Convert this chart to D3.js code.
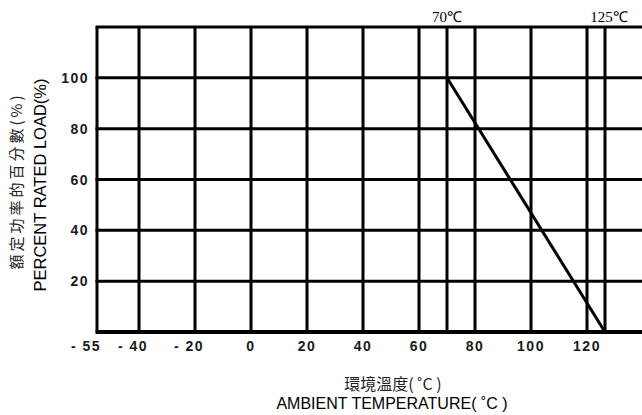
<!DOCTYPE html>
<html>
<head>
<meta charset="utf-8">
<script src="https://cdn.jsdelivr.net/npm/d3@7"></script>
<style>
  html, body { margin: 0; padding: 0; background: #fff; }
  svg { display: block; }
</style>
</head>
<body>
<svg id="chart" width="642" height="415"></svg>
<script>
// ---- data ----
const gridTemps = [-55, -40, -20, 0, 20, 40, 60, 70, 80, 100, 120, 125];
const xTickValues = [-55, -40, -20, 0, 20, 40, 60, 80, 100, 120];
const xTickLabels = ["- 55", "- 40", "- 20", "0", "20", "40", "60", "80", "100", "120"];
const gridLoads = [0, 20, 40, 60, 80, 100, 120];
const yTickValues = [20, 40, 60, 80, 100];
const yTickLabels = ["20", "40", "60", "80", "100"];
const curveTemps = [70, 125];
const curveLoads = [100, 0];
const markerTemps = [70, 125];
const markerLabels = ["70℃", "125℃"];
const yTitleZh = "額定功率的百分數(%)";
const yTitleEn = "PERCENT RATED LOAD(%)";
const xTitleZh = "環境溫度( ˚C )";
const xTitleEn = "AMBIENT TEMPERATURE( ˚C )";

// ---- layout ----
const svg = d3.select("#chart");
// the printed chart is slightly stretched between 120 and 125
const x = d3.scaleLinear().domain([-55, 120, 125, 140]).range([97, 587, 605, 650]);
const y = d3.scaleLinear().domain([0, 120]).range([332, 27]);

// grid: vertical lines
svg.append("g").selectAll("line").data(gridTemps).join("line")
  .attr("x1", d => x(d)).attr("x2", d => x(d))
  .attr("y1", y(120)).attr("y2", y(0))
  .attr("stroke", "#000").attr("stroke-width", 3);

// grid: horizontal lines
svg.append("g").selectAll("line").data(gridLoads).join("line")
  .attr("x1", x(-55) - 1.5).attr("x2", 642)
  .attr("y1", d => y(d)).attr("y2", d => y(d))
  .attr("stroke", "#000").attr("stroke-width", d => d === 0 ? 4 : 3);

// derating curve
const line = d3.line().x(d => x(d[0])).y(d => y(d[1]));
svg.append("path")
  .datum(curveTemps.map((t, i) => [t, curveLoads[i]]))
  .attr("d", line)
  .attr("fill", "none").attr("stroke", "#000").attr("stroke-width", 3);

// x tick labels
svg.append("g").selectAll("text").data(xTickValues).join("text")
  .attr("x", d => x(d) + (d < 0 ? (d === -55 ? -11 : -6) : 0))
  .attr("y", 351)
  .attr("text-anchor", "middle")
  .attr("font-family", "Liberation Sans, Arial, sans-serif")
  .attr("font-weight", "bold").attr("font-size", 14)
  .attr("letter-spacing", 1.5)
  .attr("fill", "#1a1a1a")
  .text((d, i) => xTickLabels[i]);

// y tick labels
svg.append("g").selectAll("text").data(yTickValues).join("text")
  .attr("x", 89)
  .attr("y", d => y(d) + 5)
  .attr("text-anchor", "end")
  .attr("font-family", "Liberation Sans, Arial, sans-serif")
  .attr("font-weight", "bold").attr("font-size", 14)
  .attr("letter-spacing", 1.5)
  .attr("fill", "#1a1a1a")
  .text((d, i) => yTickLabels[i]);

// top marker labels
svg.append("g").selectAll("text").data(markerTemps).join("text")
  .attr("x", d => x(d) + (d === 125 ? 4 : 0))
  .attr("y", 22)
  .attr("text-anchor", "middle")
  .attr("font-family", "Liberation Serif, Times New Roman, serif")
  .attr("font-size", 15)
  .attr("fill", "#000")
  .text((d, i) => markerLabels[i]);

// y titles
svg.append("text")
  .attr("transform", "translate(22,181) rotate(-90)")
  .attr("text-anchor", "middle")
  .attr("font-family", "Noto Sans CJK TC, sans-serif")
  .attr("font-size", 15).attr("letter-spacing", 3)
  .attr("fill", "#222")
  .text(yTitleZh);
svg.append("text")
  .attr("transform", "translate(46,185) rotate(-90)")
  .attr("text-anchor", "middle")
  .attr("font-family", "Liberation Sans, Arial, sans-serif")
  .attr("font-size", 16.5)
  .attr("fill", "#000")
  .text(yTitleEn);

// x titles
svg.append("text")
  .attr("x", 393).attr("y", 390)
  .attr("text-anchor", "middle")
  .attr("font-family", "Noto Sans CJK TC, sans-serif")
  .attr("font-size", 16)
  .attr("fill", "#222")
  .text(xTitleZh);
svg.append("text")
  .attr("x", 392).attr("y", 409)
  .attr("text-anchor", "middle")
  .attr("font-family", "Liberation Sans, Arial, sans-serif")
  .attr("font-size", 16)
  .attr("fill", "#000")
  .text(xTitleEn);
</script>
</body>
</html>
